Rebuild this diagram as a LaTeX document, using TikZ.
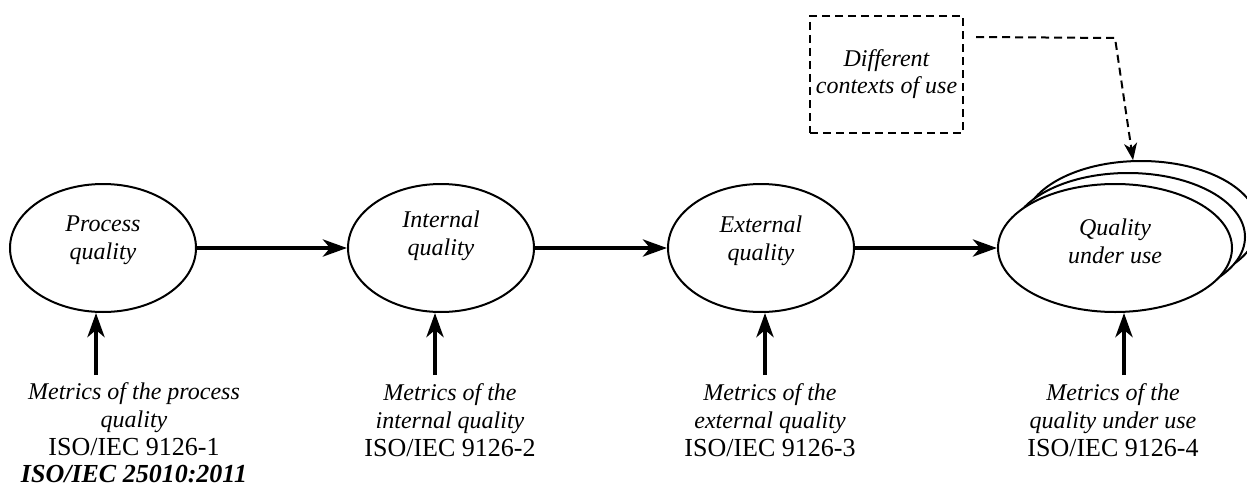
\documentclass[tikz,border=0pt]{standalone}
\usepackage{fontspec}
\setmainfont{Liberation Serif}
\usetikzlibrary{arrows.meta,shapes.geometric,calc}

\begin{document}
\begin{tikzpicture}[x=1pt,y=-1pt,
  qual/.style={ellipse, draw, line width=2pt, fill=white,
    minimum width=186pt, minimum height=128pt, inner sep=0pt},
  qtext/.style={align=center, inner sep=0pt,
    font=\fontsize{24}{28}\selectfont\itshape},
  metric/.style={align=center, anchor=north, inner sep=0pt,
    font=\fontsize{24}{28}\selectfont\itshape},
  flow/.style={line width=4.5pt, -{Stealth[length=24pt,width=17pt,inset=7pt]}},
  ctxbox/.style={draw, dash pattern=on 8pt off 5pt, line width=2pt,
    minimum width=153pt, minimum height=117pt, inner sep=0pt, align=center,
    font=\fontsize{24}{27}\selectfont\itshape},
  ctxlink/.style={line width=2pt, dash pattern=on 8pt off 5pt,
    -{Stealth[length=17pt,width=13pt,inset=5pt]}},
]
\clip (0,0) rectangle (1247,487);

% quality models
\node[qual] (e1) at (103,248) {};
\node[qual] (e2) at (441,248) {};
\node[qual] (e3) at (761,248) {};
\node[qual, minimum width=234pt] (e4c) at (1141,225) {};
\node[qual, minimum width=234pt] (e4b) at (1128,237) {};
\node[qual, minimum width=234pt] (e4) at (1115,248) {};

\node[qtext] (t1) at (103,240) {Process\\quality};
\node[qtext] (t2) at (441,236) {Internal\\quality};
\node[qtext] (t3) at (761,241) {External\\quality};
\node[qtext] (t4) at (1115,241) {Quality\\under use};

% influence between the models
\draw[flow] (e1.east) -- (e2.west);
\draw[flow] (e2.east) -- (e3.west);
\draw[flow] (e3.east) -- (e4.west);

% metrics
\node[metric] (m1) at (134,382) {Metrics of the process\\quality\\[0.5pt]
  {\fontsize{26}{28}\selectfont\upshape ISO/IEC 9126-1}\\[-1pt]
  {\fontsize{26}{28}\selectfont\bfseries ISO/IEC 25010:2011}};
\node[metric] (m2) at (450,383) {Metrics of the\\internal quality\\[0.5pt]
  {\fontsize{26}{28}\selectfont\upshape ISO/IEC 9126-2}};
\node[metric] (m3) at (770,383) {Metrics of the\\external quality\\[0.5pt]
  {\fontsize{26}{28}\selectfont\upshape ISO/IEC 9126-3}};
\node[metric] (m4) at (1113,383) {Metrics of the\\quality under use\\[0.5pt]
  {\fontsize{26}{28}\selectfont\upshape ISO/IEC 9126-4}};

\coordinate (a1) at (96,375);
\coordinate (a2) at (435,375);
\coordinate (a3) at (765,375);
\coordinate (a4) at (1124,375);
\draw[flow] (a1) -- (a1 |- e1.south);
\draw[flow] (a2) -- (a2 |- e2.south);
\draw[flow] (a3) -- (a3 |- e3.south);
\draw[flow] (a4) -- (a4 |- e4.south);

% contexts of use
\node[ctxbox] (ctx) at (886.5,74.5) {Different\\contexts of use};
\coordinate (c0) at ($(ctx.north east)+(12,22)$);
\coordinate (c1) at (1115,38);
\draw[ctxlink] (c0) -- (c1) -- (e4c.97);
\end{tikzpicture}
\end{document}
